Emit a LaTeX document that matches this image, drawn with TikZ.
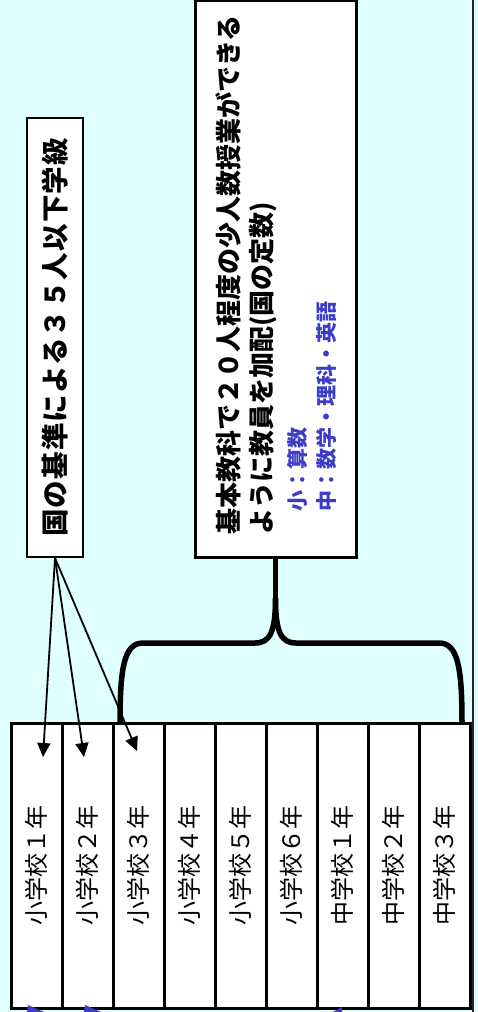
\documentclass[tikz,border=0pt]{standalone}
\usepackage{fontspec}
\newfontfamily\jp{Noto Sans CJK JP}
\usetikzlibrary{arrows.meta}
\definecolor{bgcyan}{RGB}{224,255,255}
\definecolor{txtblue}{RGB}{60,60,200}
\tikzset{
  gbox/.style={draw, line width=3pt, fill=white, rotate=90, minimum width=285pt, minimum height=51pt, inner sep=0pt, font=\jp\fontsize{24}{26}\selectfont},
  boxline/.style={draw, fill=white, inner sep=0pt},
  bigtxt/.style={rotate=90, anchor=west, inner sep=0pt, font=\jp\bfseries\fontsize{26}{28}\selectfont},
  bluetxt/.style={rotate=90, anchor=west, inner sep=0pt, text=txtblue, font=\jp\bfseries\fontsize{21}{24}\selectfont},
  arr/.style={line width=1.8pt, -{Triangle[length=14pt,width=13pt]}},
  brace/.style={line width=5.5pt, line join=round}
}
\begin{document}
\begin{tikzpicture}[x=1pt,y=-1pt]
\useasboundingbox (0,0) rectangle (478,1012);
\fill[bgcyan] (0,0) rectangle (478,1012);
\draw[line width=2pt, black!85] (473,-2) -- (473,1014);

% grade boxes
\node[gbox] (g1) at (36.5,865.5) {小学校１年};
\node[gbox] (g2) at (87.5,865.5) {小学校２年};
\node[gbox] (g3) at (138.5,865.5) {小学校３年};
\node[gbox] (g4) at (189.5,865.5) {小学校４年};
\node[gbox] (g5) at (240.5,865.5) {小学校５年};
\node[gbox] (g6) at (291.5,865.5) {小学校６年};
\node[gbox] (g7) at (342.5,865.5) {中学校１年};
\node[gbox] (g8) at (393.5,865.5) {中学校２年};
\node[gbox] (g9) at (444.5,865.5) {中学校３年};

% small box
\node[boxline, line width=2pt, rotate=90, minimum width=439pt, minimum height=56pt,
      font=\jp\bfseries\fontsize{27.5}{30}\selectfont\addfontfeature{LetterSpace=4}] (sb) at (55,337.5) {国の基準による３５人以下学級};

% big box
\node[boxline, line width=3pt, minimum width=161pt, minimum height=557pt] (mb) at (275.5,279) {};
\node[bigtxt] (l1) at (228,535) {基本教科で２０人程度の少人数授業ができる};
\node[bigtxt] (l2) at (263,535) {ように教員を加配(国の定数)};
\node[bluetxt] (l3) at (297,512) {小：算数};
\node[bluetxt] (l4) at (326,512) {中：数学・理科・英語};

% arrows
\coordinate (t1) at (43,757);
\coordinate (t2) at (84,757);
\coordinate (t3) at (137,751);
\draw[arr] (sb.west) -- (t1);
\draw[arr] (sb.west) -- (t2);
\draw[arr] (sb.west) -- (t3);

% brace
\coordinate (bj) at (275.5,598);
\coordinate (bl) at (120,723);
\coordinate (br) at (462,723);
\draw[brace] (mb.south) -- (bj);
\draw[brace] (bj) .. controls (275.5,632) and (270,643) .. (255,643) -- (143,643) .. controls (124,643) and (120,668) .. (bl);
\draw[brace] (bj) .. controls (275.5,632) and (281,643) .. (296,643) -- (439,643) .. controls (458,643) and (462,668) .. (br);

% blue tips at bottom edge
\fill[txtblue] (28,1005) -- (44,1012) -- (27,1012) -- cycle;
\fill[txtblue] (85,1005) -- (101,1012) -- (84,1012) -- cycle;
\fill[txtblue] (333,1012) -- (342,1007) -- (342,1012) -- cycle;
\end{tikzpicture}
\end{document}
